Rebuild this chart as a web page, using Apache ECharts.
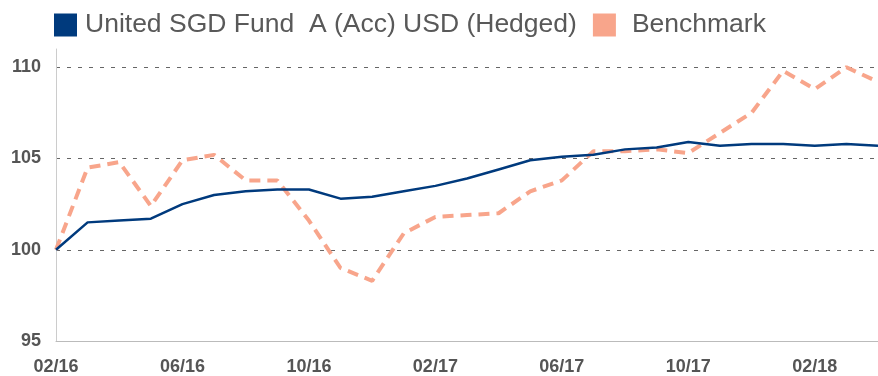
<!DOCTYPE html>
<html>
<head>
<meta charset="utf-8">
<script src="https://cdn.jsdelivr.net/npm/echarts@6/dist/echarts.min.js"></script>
<style>
  html, body { margin: 0; padding: 0; background: #fff; }
  #chart { width: 878px; height: 376px; }
</style>
</head>
<body>
<div id="chart"></div>
<script>
// Monthly index values, rebased to 100 at 02/16
const months = [
  '02/16', '03/16', '04/16', '05/16', '06/16', '07/16', '08/16', '09/16',
  '10/16', '11/16', '12/16', '01/17', '02/17', '03/17', '04/17', '05/17',
  '06/17', '07/17', '08/17', '09/17', '10/17', '11/17', '12/17', '01/18',
  '02/18', '03/18', '04/18'
];
const fundName = 'United SGD Fund  A (Acc) USD (Hedged)';
const benchName = 'Benchmark';
const fundValues = [
  100.0, 101.5, 101.6, 101.7, 102.5, 103.0, 103.2, 103.3,
  103.3, 102.8, 102.9, 103.2, 103.5, 103.9, 104.4, 104.9,
  105.1, 105.2, 105.5, 105.6, 105.9, 105.7, 105.8, 105.8,
  105.7, 105.8, 105.7
];
const benchValues = [
  100.0, 104.5, 104.8, 102.4, 104.9, 105.2, 103.8, 103.8,
  101.6, 99.0, 98.3, 100.9, 101.8, 101.9, 102.0, 103.2,
  103.8, 105.4, 105.4, 105.5, 105.3, 106.4, 107.5, 109.8,
  108.8, 110.0, 109.2
];

const fundColor = '#003a7d';
const benchColor = '#f8a58b';
const labelColor = '#555555';

const chart = echarts.init(document.getElementById('chart'), null, { renderer: 'canvas' });
chart.setOption({
  animation: false,
  backgroundColor: '#ffffff',
  legend: {
    left: 54,
    top: 11,
    padding: 0,
    itemWidth: 23,
    itemHeight: 23,
    itemGap: 16,
    icon: 'rect',
    textStyle: {
      fontFamily: 'Liberation Sans, Arial, sans-serif',
      fontSize: 26.5,
      color: '#595959',
      lineHeight: 28
    },
    data: [
      { name: fundName, itemStyle: { color: fundColor }, textStyle: { padding: [0, 0, 0, 3] } },
      { name: benchName, itemStyle: { color: benchColor }, textStyle: { padding: [0, 0, 0, 11] } }
    ]
  },
  grid: {
    left: 56,
    right: -4,
    top: 49,
    bottom: 33.3,
    containLabel: false
  },
  xAxis: {
    type: 'category',
    data: months,
    boundaryGap: false,
    axisLine: { show: true, lineStyle: { color: '#bbbbbb', width: 1 } },
    axisTick: { show: false },
    axisLabel: {
      interval: 3,
      margin: 17,
      color: labelColor,
      fontFamily: 'Liberation Sans, Arial, sans-serif',
      fontWeight: 'bold',
      fontSize: 18
    },
    splitLine: { show: false }
  },
  yAxis: {
    type: 'value',
    min: 95,
    max: 111,
    interval: 5,
    axisLine: { show: true, lineStyle: { color: '#cccccc', width: 1 } },
    axisTick: { show: false },
    axisLabel: {
      margin: 15,
      showMaxLabel: false,
      color: labelColor,
      fontFamily: 'Liberation Sans, Arial, sans-serif',
      fontWeight: 'bold',
      fontSize: 18
    },
    splitLine: {
      show: true,
      showMinLine: false,
      showMaxLine: false,
      lineStyle: { color: '#666666', width: 1, type: [4, 7] }
    }
  },
  series: [
    {
      name: fundName,
      type: 'line',
      data: fundValues,
      symbol: 'none',
      z: 3,
      lineStyle: { color: fundColor, width: 2.5 },
      itemStyle: { color: fundColor }
    },
    {
      name: benchName,
      type: 'line',
      data: benchValues,
      symbol: 'none',
      z: 2,
      lineStyle: { color: benchColor, width: 4, type: [11, 7] },
      itemStyle: { color: benchColor }
    }
  ]
});
</script>
</body>
</html>
